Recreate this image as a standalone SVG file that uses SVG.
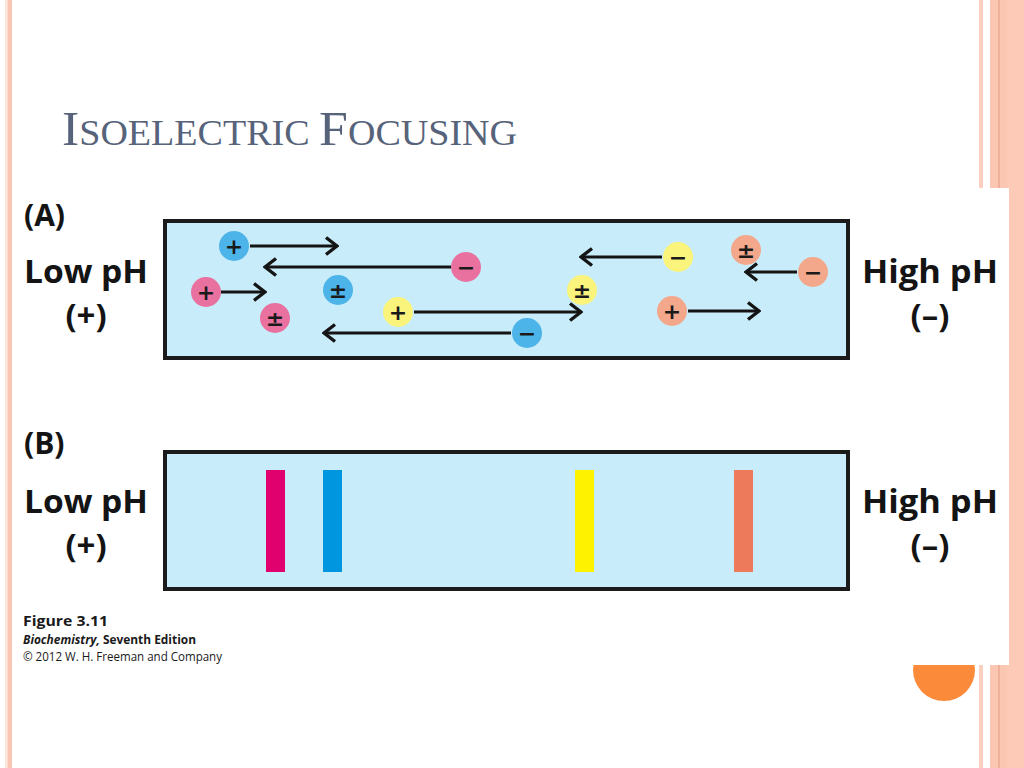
<svg xmlns="http://www.w3.org/2000/svg" width="1024" height="768" viewBox="0 0 1024 768">
<defs>
<style>
.lbl{font-family:"Open Sans","Noto Sans",sans-serif;font-weight:700;fill:#141414}
.sym{font-family:"DejaVu Sans","Noto Sans",sans-serif;font-weight:700;font-size:22px;fill:#1a1a1a;text-anchor:middle}
.gel{fill:#c8ecf9;stroke:#1b1b1b;stroke-width:4}
.arr{stroke:#141414;stroke-width:3.2;fill:none;marker-end:url(#chev)}
.cap{font-family:"Open Sans","Noto Sans",sans-serif;fill:#1a1a1a}
.blue{fill:#4cb4e9}.pink{fill:#e9719f}.yel{fill:#fbf47c}.sal{fill:#f3a78b}
</style>
<marker id="chev" viewBox="0 0 15 20" refX="13" refY="10" markerWidth="15" markerHeight="20" markerUnits="userSpaceOnUse" orient="auto">
<path d="M2,1.5 L13,10 L2,18.5" fill="none" stroke="#141414" stroke-width="3.4" stroke-linejoin="miter"/>
</marker>
</defs>
<rect width="1024" height="768" fill="#ffffff"/>
<g id="frame">
<rect x="5" y="0" width="2.5" height="768" fill="#fbe6da"/>
<rect x="7.5" y="0" width="4.5" height="768" fill="#f9c6b6"/>
<rect x="979" y="0" width="4" height="768" fill="#fbcfbf"/>
<rect x="990" y="0" width="17" height="768" fill="#fbc6b2"/>
<rect x="998.5" y="0" width="1" height="768" fill="#e59c84"/>
<rect x="1007" y="0" width="17" height="768" fill="#fccab7"/>
<circle cx="944" cy="670" r="31" fill="#fb8a3a"/>
<rect x="14" y="188" width="995" height="477" fill="#ffffff"/>
</g>
<text id="title" x="62" y="145" textLength="455" lengthAdjust="spacingAndGlyphs" font-family="'Liberation Serif','Times New Roman',serif" fill="#56637a"><tspan font-size="49">I</tspan><tspan font-size="36">SOELECTRIC </tspan><tspan font-size="49">F</tspan><tspan font-size="36">OCUSING</tspan></text>

<g id="panelA">
<rect class="gel" x="165" y="221" width="683" height="137"/>
</g>
<g id="labelsA">
<text class="lbl" x="24" y="226" font-size="30">(A)</text>
<text class="lbl" x="24" y="283" font-size="33" textLength="124" lengthAdjust="spacingAndGlyphs">Low pH</text>
<text class="lbl" x="86" y="327" font-size="33" text-anchor="middle">(+)</text>
<text class="lbl" x="862" y="283" font-size="33" textLength="136" lengthAdjust="spacingAndGlyphs">High pH</text>
<text class="lbl" x="930" y="327" font-size="33" text-anchor="middle">(–)</text>
</g>
<g id="connectors">
<line class="arr" x1="250" y1="246" x2="337" y2="246"/>
<line class="arr" x1="451" y1="267" x2="265" y2="267"/>
<line class="arr" x1="221" y1="292" x2="265" y2="292"/>
<line class="arr" x1="414" y1="312" x2="581" y2="312"/>
<line class="arr" x1="511" y1="333" x2="324" y2="333"/>
<line class="arr" x1="662" y1="257" x2="581" y2="257"/>
<line class="arr" x1="797" y1="272" x2="746" y2="272"/>
<line class="arr" x1="688" y1="311" x2="759" y2="311"/>
</g>
<g id="particle-blue-plus"><circle class="blue" cx="234" cy="246" r="15"/><text class="sym" x="234" y="254">+</text></g>
<g id="particle-pink-minus"><circle class="pink" cx="466" cy="267" r="15"/><text class="sym" x="466" y="275">−</text></g>
<g id="particle-pink-plus"><circle class="pink" cx="206" cy="292" r="15"/><text class="sym" x="206" y="300">+</text></g>
<g id="particle-blue-pm"><circle class="blue" cx="338" cy="290" r="15"/><text class="sym" x="338" y="298">±</text></g>
<g id="particle-pink-pm"><circle class="pink" cx="275" cy="318" r="15"/><text class="sym" x="275" y="326">±</text></g>
<g id="particle-yellow-plus"><circle class="yel" cx="398" cy="312" r="15"/><text class="sym" x="398" y="320">+</text></g>
<g id="particle-blue-minus"><circle class="blue" cx="527" cy="333" r="15"/><text class="sym" x="527" y="341">−</text></g>
<g id="particle-yellow-pm"><circle class="yel" cx="582" cy="290" r="15"/><text class="sym" x="582" y="298">±</text></g>
<g id="particle-yellow-minus"><circle class="yel" cx="678" cy="257" r="15"/><text class="sym" x="678" y="265">−</text></g>
<g id="particle-salmon-pm"><circle class="sal" cx="746" cy="250" r="15"/><text class="sym" x="746" y="258">±</text></g>
<g id="particle-salmon-minus"><circle class="sal" cx="813" cy="272" r="15"/><text class="sym" x="813" y="280">−</text></g>
<g id="particle-salmon-plus"><circle class="sal" cx="672" cy="311" r="15"/><text class="sym" x="672" y="319">+</text></g>

<g id="panelB">
<rect class="gel" x="165" y="452" width="683" height="137"/>
<rect x="266" y="470" width="19" height="102" fill="#e0006e"/>
<rect x="323" y="470" width="19" height="102" fill="#0096df"/>
<rect x="575" y="470" width="19" height="102" fill="#fff200"/>
<rect x="734" y="470" width="19" height="102" fill="#ee7a5c"/>
</g>
<g id="labelsB">
<text class="lbl" x="24" y="454" font-size="30">(B)</text>
<text class="lbl" x="24" y="513" font-size="33" textLength="124" lengthAdjust="spacingAndGlyphs">Low pH</text>
<text class="lbl" x="86" y="557" font-size="33" text-anchor="middle">(+)</text>
<text class="lbl" x="862" y="513" font-size="33" textLength="136" lengthAdjust="spacingAndGlyphs">High pH</text>
<text class="lbl" x="930" y="557" font-size="33" text-anchor="middle">(–)</text>
</g>
<g id="caption">
<text class="cap" x="23" y="626" font-size="15" font-weight="700" textLength="85" lengthAdjust="spacingAndGlyphs">Figure 3.11</text>
<text class="cap" x="23" y="644" font-size="12.5" font-weight="700" textLength="173" lengthAdjust="spacingAndGlyphs"><tspan font-style="italic">Biochemistry,</tspan> Seventh Edition</text>
<text class="cap" x="23" y="661" font-size="12" fill="#333" textLength="199" lengthAdjust="spacingAndGlyphs">© 2012 W. H. Freeman and Company</text>
</g>
</svg>
